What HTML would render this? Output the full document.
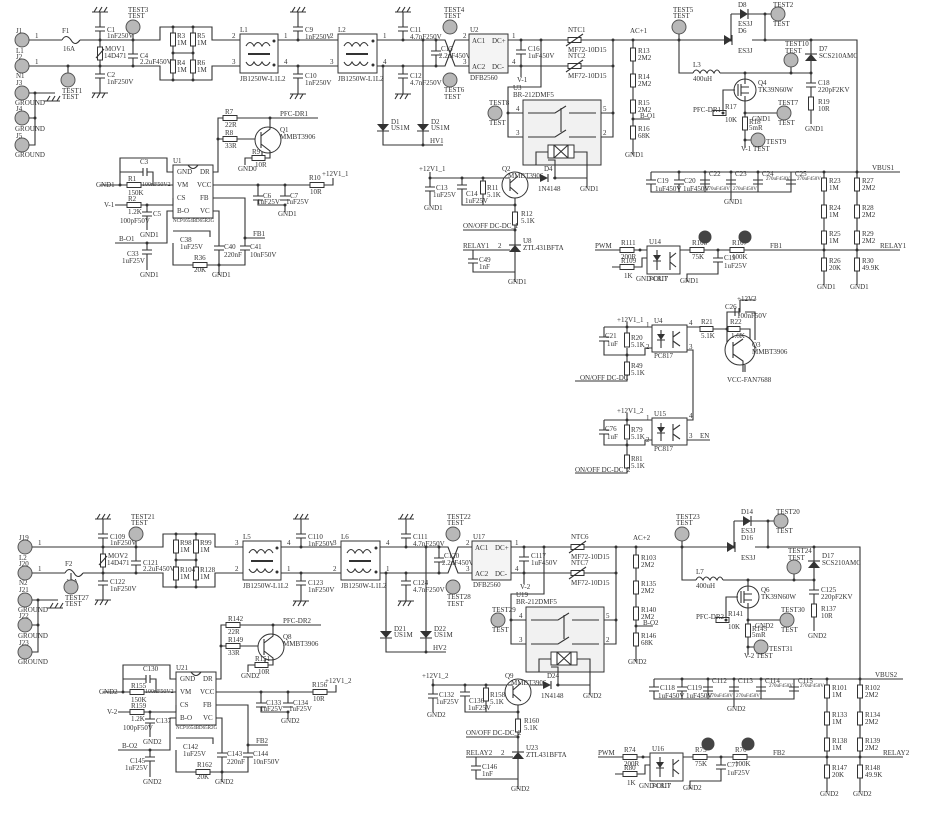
<!DOCTYPE html>
<html><head><meta charset="utf-8"><style>
html,body{margin:0;padding:0;background:#fff}
svg{display:block}
.w{stroke:#333;stroke-width:1.1;fill:none}
.b{fill:#fff;stroke:#333;stroke-width:1}
.tp{fill:#b8b8b8;stroke:#555;stroke-width:1}
.d{fill:#333}
text{fill:#333;font-family:"Liberation Serif",serif;font-size:7px}
</style></head><body>
<svg width="944" height="826" viewBox="0 0 944 826" xmlns="http://www.w3.org/2000/svg">
<g>
<circle class="tp" cx="22" cy="40" r="7"/><circle class="tp" cx="22" cy="66" r="7"/><circle class="tp" cx="22" cy="93" r="7"/><circle class="tp" cx="22" cy="118" r="7"/><circle class="tp" cx="22" cy="145" r="7"/>
<text x="16" y="33">J1</text><text x="16" y="53">L1</text><text x="16" y="59">J2</text><text x="16" y="78">N1</text><text x="16" y="85">J3</text><text x="15" y="105">GROUND</text><text x="16" y="111">J4</text><text x="15" y="131">GROUND</text><text x="16" y="138">J5</text><text x="15" y="157">GROUND</text>
<text x="35" y="38">1</text><text x="35" y="64">1</text>
<path class="w" d="M29 40H62M80 40H160V27H212V40H240M62 40q4-7 9 0q4 7 9 0M29 66H160V80H212V66H240M29 93H55M35 93V145H29M29 118H35"/>
<path class="w" d="M44 101h16M47 101l3-5M52 101l3-5M57 101l3-5"/>
<circle class="d" cx="35" cy="93" r="1.5"/><circle class="d" cx="35" cy="118" r="1.5"/>
<text x="62" y="33">F1</text><text x="63" y="51">16A</text>
<path class="w" d="M100 12V27M95 27h10M95 31h10M100 31V47M100 60V74M95 74h10M95 78h10M100 78V93M92 12h16M94 12l3-5M99 12l3-5M104 12l3-5M92 93h16M92 98l3-5M97 98l3-5M102 98l3-5"/>
<rect class="b" x="97.5" y="47" width="5" height="13"/><path class="w" d="M96 58l8-9"/>
<circle class="d" cx="100" cy="40" r="1.5"/><circle class="d" cx="100" cy="66" r="1.5"/>
<text x="107" y="32">C1</text><text x="107" y="38">1nF250V</text><text x="105" y="51">MOV1</text><text x="104" y="58">14D471</text><text x="107" y="77">C2</text><text x="107" y="84">1nF250V</text>
<path class="w" d="M133 34V54M128 54h10M128 58h10M133 58V66M68 66V73"/>
<circle class="d" cx="133" cy="40" r="1.5"/><circle class="d" cx="133" cy="66" r="1.5"/><circle class="d" cx="68" cy="66" r="1.5"/>
<circle class="tp" cx="133" cy="27" r="7"/><circle class="tp" cx="68" cy="80" r="7"/>
<text x="128" y="12">TEST3</text><text x="128" y="18">TEST</text><text x="62" y="93">TEST1</text><text x="62" y="99">TEST</text>
<text x="140" y="58">C4</text><text x="140" y="64">2.2uF450V</text>
<path class="w" d="M173 27V80M193 27V80M173 53H193"/>
<rect class="b" x="170.5" y="33" width="5" height="13"/><rect class="b" x="190.5" y="33" width="5" height="13"/><rect class="b" x="170.5" y="60" width="5" height="13"/><rect class="b" x="190.5" y="60" width="5" height="13"/>
<circle class="d" cx="173" cy="27" r="1.5"/><circle class="d" cx="193" cy="27" r="1.5"/><circle class="d" cx="173" cy="53" r="1.5"/><circle class="d" cx="193" cy="53" r="1.5"/><circle class="d" cx="173" cy="80" r="1.5"/><circle class="d" cx="193" cy="80" r="1.5"/>
<text x="177" y="38">R3</text><text x="177" y="45">1M</text><text x="197" y="38">R5</text><text x="197" y="45">1M</text><text x="177" y="65">R4</text><text x="177" y="72">1M</text><text x="197" y="65">R6</text><text x="197" y="72">1M</text>
<rect class="b" x="240" y="34" width="38" height="39"/>
<path class="w" d="M246 46q4-7 8 0q4-7 8 0q4-7 8 0M246 62q4 7 8 0q4 7 8 0q4 7 8 0"/><path d="M248 54H270" stroke="#333" stroke-width="2"/>
<circle class="d" cx="274" cy="41" r="1.5"/><circle class="d" cx="274" cy="65" r="1.5"/>
<text x="240" y="32">L1</text><text x="240" y="81">JB1250W-L1L2</text><text x="232" y="38">2</text><text x="232" y="64">3</text><text x="284" y="38">1</text><text x="284" y="64">4</text>
<path class="w" d="M278 40H338M278 66H338M298 12V27M293 27h10M293 31h10M298 31V40M298 66V74M293 74h10M293 78h10M298 78V94M290 12h16M292 12l3-5M297 12l3-5M302 12l3-5M290 94h16M290 99l3-5M295 99l3-5M300 99l3-5"/>
<circle class="d" cx="298" cy="40" r="1.5"/><circle class="d" cx="298" cy="66" r="1.5"/>
<text x="305" y="32">C9</text><text x="305" y="39">1nF250V</text><text x="330" y="38">2</text><text x="305" y="78">C10</text><text x="305" y="85">1nF250V</text><text x="330" y="64">3</text>
<rect class="b" x="338" y="34" width="39" height="39"/>
<path class="w" d="M344 46q4-7 8 0q4-7 8 0q4-7 8 0M344 62q4 7 8 0q4 7 8 0q4 7 8 0"/><path d="M346 54H368" stroke="#333" stroke-width="2"/>
<circle class="d" cx="373" cy="41" r="1.5"/><circle class="d" cx="373" cy="65" r="1.5"/>
<text x="338" y="32">L2</text><text x="338" y="81">JB1250W-L1L2</text><text x="383" y="38">1</text><text x="383" y="64">4</text>
<path class="w" d="M377 40H445L455 66H470M377 66H445L455 40H470M403 12V27M398 27h10M398 31h10M403 31V40M403 66V74M398 74h10M398 78h10M403 78V94M395 12h16M397 12l3-5M402 12l3-5M407 12l3-5M395 94h16M395 99l3-5M400 99l3-5M405 99l3-5"/>
<path class="w" d="M436 40V51M431 51h10M431 55h10M436 55V66M423 40V145M383 66V145H443"/>
<path class="d" d="M377 124h12l-6 7z M417 124h12l-6 7z"/><path class="w" d="M377 131h12M417 131h12"/>
<circle class="d" cx="403" cy="40" r="1.5"/><circle class="d" cx="403" cy="66" r="1.5"/><circle class="d" cx="423" cy="40" r="1.5"/><circle class="d" cx="383" cy="66" r="1.5"/><circle class="d" cx="436" cy="40" r="1.5"/><circle class="d" cx="436" cy="66" r="1.5"/><circle class="d" cx="423" cy="145" r="1.5"/>
<text x="410" y="32">C11</text><text x="410" y="39">4.7nF250V</text><text x="410" y="78">C12</text><text x="410" y="85">4.7nF250V</text><text x="441" y="51">C15</text><text x="439" y="58">2.2uF450V</text>
<text x="391" y="124">D1</text><text x="391" y="130">US1M</text><text x="431" y="124">D2</text><text x="431" y="130">US1M</text><text x="430" y="143">HV1</text>
<circle class="tp" cx="450" cy="27" r="7"/><circle class="tp" cx="450" cy="80" r="7"/>
<text x="444" y="12">TEST4</text><text x="444" y="18">TEST</text><text x="444" y="92">TEST6</text><text x="444" y="99">TEST</text>
<rect class="b" x="469" y="34" width="39" height="39" style="fill:#f4f4f4"/>
<text x="472" y="43">AC1</text><text x="492" y="43">DC+</text><text x="472" y="69">AC2</text><text x="492" y="69">DC-</text><text x="470" y="32">U2</text><text x="470" y="80">DFB2560</text><text x="463" y="38">2</text><text x="463" y="64">3</text><text x="512" y="38">1</text><text x="512" y="64">4</text>
<path class="w" d="M508 40H731M752 40H857V250M508 66H613M521 40V50M516 50h10M516 54h10M521 54V77M541 40V87H508V137H523M508 113H523M613 40V137H600M600 113H613"/>
<circle class="d" cx="521" cy="40" r="1.5"/><circle class="d" cx="521" cy="66" r="1.5"/><circle class="d" cx="541" cy="40" r="1.5"/><circle class="d" cx="613" cy="40" r="1.5"/><circle class="d" cx="613" cy="66" r="1.5"/><circle class="d" cx="508" cy="113" r="1.5"/><circle class="d" cx="613" cy="113" r="1.5"/>
<text x="528" y="51">C16</text><text x="528" y="58">1uF450V</text><text x="517" y="82">V-1</text>
<rect class="b" x="568" y="37.5" width="13" height="5"/><path class="w" d="M566 46l17-12"/><rect class="b" x="568" y="63.5" width="13" height="5"/><path class="w" d="M566 72l17-12"/>
<text x="568" y="32">NTC1</text><text x="568" y="52">MF72-10D15</text><text x="568" y="58">NTC2</text><text x="568" y="78">MF72-10D15</text>
<circle class="tp" cx="495" cy="113" r="7"/><text x="489" y="105">TEST8</text><text x="489" y="125">TEST</text>
<text x="513" y="90">U3</text><text x="513" y="97">BR-212DMF5</text>
<rect x="523" y="100" width="78" height="65" fill="#f1f1f1" stroke="#333"/>
<path class="w" d="M528 113H555L566 106M569 113H596M528 137H555L566 130M569 137H596M561 108V132M548 152H536V165M574 152H587V165"/>
<rect class="b" x="548" y="145" width="26" height="13"/><path class="w" d="M554 145v13M568 145v13M554 145l14 13M568 145l-14 13"/>
<text x="516" y="111">4</text><text x="516" y="135">3</text><text x="603" y="111">5</text><text x="603" y="135">2</text>
<path class="w" d="M633 40V155M633 119H650"/>
<rect class="b" x="630.5" y="48" width="5" height="13"/><rect class="b" x="630.5" y="74" width="5" height="13"/><rect class="b" x="630.5" y="100" width="5" height="13"/><rect class="b" x="630.5" y="126" width="5" height="13"/>
<circle class="d" cx="633" cy="40" r="1.5"/><circle class="d" cx="633" cy="119" r="1.5"/>
<text x="630" y="33">AC+1</text><text x="638" y="53">R13</text><text x="638" y="60">2M2</text><text x="638" y="79">R14</text><text x="638" y="86">2M2</text><text x="638" y="105">R15</text><text x="638" y="112">2M2</text><text x="640" y="118">B-O1</text><text x="638" y="131">R16</text><text x="638" y="138">68K</text><text x="625" y="157">GND1</text>
<circle class="tp" cx="679" cy="27" r="7"/><text x="673" y="12">TEST5</text><text x="673" y="18">TEST</text>
<path class="w" d="M679 34V73H693M720 73H811M693 73q3-6 7 0q3-6 7 0q3-6 7 0q3-6 6 0M731 14V40M731 14H741M748 14H765V40M765 14H771"/>
<path class="d" d="M740 9v10l8-5z M724 35v10l8-5z"/><path class="w" d="M748 9v10M732 35v10M731 40H724"/>
<circle class="d" cx="679" cy="40" r="1.5"/><circle class="d" cx="731" cy="40" r="1.5"/><circle class="d" cx="765" cy="40" r="1.5"/><circle class="d" cx="765" cy="14" r="1.5"/>
<text x="738" y="7">D8</text><text x="738" y="26">ES3J</text><text x="738" y="33">D6</text><text x="738" y="53">ES3J</text>
<circle class="tp" cx="778" cy="14" r="7"/><text x="773" y="7">TEST2</text><text x="773" y="26">TEST</text>
<text x="693" y="67">L3</text><text x="693" y="81">400uH</text>
<path class="w" d="M811 40V73V83M806 83h10M806 87h10M811 87V97M811 110V124M791 67V73"/>
<path class="d" d="M805 61h12l-6-7z"/><path class="w" d="M805 54h12"/>
<rect class="b" x="808.5" y="97" width="5" height="13"/>
<circle class="d" cx="811" cy="40" r="1.5"/><circle class="d" cx="811" cy="73" r="1.5"/><circle class="d" cx="791" cy="73" r="1.5"/><circle class="d" cx="745" cy="73" r="1.5"/>
<circle class="tp" cx="791" cy="60" r="7"/><text x="785" y="46">TEST10</text><text x="785" y="53">TEST</text>
<text x="819" y="51">D7</text><text x="819" y="58">SCS210AMC</text><text x="818" y="85">C18</text><text x="818" y="92">220pF2KV</text><text x="818" y="104">R19</text><text x="818" y="111">10R</text><text x="805" y="131">GND1</text>
<circle class="b" cx="745" cy="90" r="11"/><path class="w" d="M745 73V84M745 96V148M738 84v12M741 84v12M741 87h8M741 93h8M735 90H723V113M745 113H777M745 140H751"/>
<rect class="b" x="713" y="110.5" width="13" height="5"/><rect class="b" x="742.5" y="117" width="5" height="13"/>
<circle class="d" cx="723" cy="113" r="1.5"/><circle class="d" cx="745" cy="113" r="1.5"/><circle class="d" cx="745" cy="140" r="1.5"/>
<text x="758" y="85">Q4</text><text x="758" y="92">TK39N60W</text><text x="693" y="112">PFC-DR1</text><text x="725" y="109">R17</text><text x="725" y="122">10K</text><text x="749" y="124">R18</text><text x="749" y="130">5mR</text><text x="752" y="121">GND1</text><text x="741" y="151">V-1</text>
<circle class="tp" cx="784" cy="113" r="7"/><text x="778" y="105">TEST7</text><text x="778" y="125">TEST</text>
<circle class="tp" cx="758" cy="140" r="7"/><text x="766" y="144">TEST9</text><text x="753" y="151">TEST</text>
<path class="w" d="M651 172H900M651 172V180M646 180h10M646 184h10M651 184V192H791V172M679 172V180M674 180h10M674 184h10M679 184V192M705 172V192M700 180h10M700 184h10M731 172V200M726 180h10M726 184h10M758 172V192M753 180h10M753 184h10M786 180h10M786 184h10"/>
<circle class="d" cx="679" cy="172" r="1.5"/><circle class="d" cx="705" cy="172" r="1.5"/><circle class="d" cx="731" cy="172" r="1.5"/><circle class="d" cx="758" cy="172" r="1.5"/><circle class="d" cx="824" cy="172" r="1.5"/><circle class="d" cx="857" cy="172" r="1.5"/>
<text x="657" y="183">C19</text><text x="655" y="191">1uF450V</text><text x="684" y="183">C20</text><text x="683" y="191">1uF450V</text><text x="709" y="176">C22</text><text x="735" y="176">C23</text><text x="762" y="176">C24</text><text x="795" y="176">C25</text><text x="706" y="190" style="font-size:5px">270uF450V</text><text x="733" y="190" style="font-size:5px">270uF450V</text><text x="766" y="180" style="font-size:5px">270uF450V</text><text x="797" y="180" style="font-size:5px">270uF450V</text><text x="724" y="204">GND1</text>
<text x="872" y="170">VBUS1</text>
<path class="w" d="M824 172V285M857 172V285"/>
<rect class="b" x="821.5" y="178" width="5" height="13"/><rect class="b" x="821.5" y="205" width="5" height="13"/><rect class="b" x="821.5" y="231" width="5" height="13"/><rect class="b" x="821.5" y="258" width="5" height="13"/>
<rect class="b" x="854.5" y="178" width="5" height="13"/><rect class="b" x="854.5" y="205" width="5" height="13"/><rect class="b" x="854.5" y="231" width="5" height="13"/><rect class="b" x="854.5" y="258" width="5" height="13"/>
<text x="829" y="183">R23</text><text x="829" y="190">1M</text><text x="829" y="210">R24</text><text x="829" y="217">1M</text><text x="829" y="236">R25</text><text x="829" y="243">1M</text><text x="829" y="263">R26</text><text x="829" y="270">20K</text><text x="817" y="289">GND1</text>
<text x="862" y="183">R27</text><text x="862" y="190">2M2</text><text x="862" y="210">R28</text><text x="862" y="217">2M2</text><text x="862" y="236">R29</text><text x="862" y="243">2M2</text><text x="862" y="263">R30</text><text x="862" y="270">49.9K</text><text x="850" y="289">GND1</text>
<path class="w" d="M680 250H857M857 250H900M595 250H620M634 250H647M687 250H690M704 250H730M744 250H760M718 250V258M713 258h10M713 262h10M718 262V274H687V282M612 267H620M634 267H642V258H647"/>
<circle class="d" cx="824" cy="250" r="1.5"/><circle class="d" cx="857" cy="250" r="1.5"/><circle class="d" cx="718" cy="250" r="1.5"/><circle class="d" cx="640" cy="250" r="1.5"/>
<text x="770" y="248">FB1</text><text x="880" y="248">RELAY1</text><text x="595" y="248">PWM</text>
<rect class="b" x="620" y="247.5" width="14" height="5"/><rect class="b" x="620" y="264.5" width="14" height="5"/><rect class="b" x="690" y="247.5" width="14" height="5"/><rect class="b" x="730" y="247.5" width="14" height="5"/>
<rect class="b" x="647" y="246" width="33" height="28"/><path class="d" d="M653 255h8l-4 6z"/><path class="w" d="M653 261h8M657 250v20M670 252v18M670 258l6-5M670 262l6 5"/>
<text x="621" y="245">R111</text><text x="621" y="259">200R</text><text x="621" y="263">R109</text><text x="624" y="278">1K</text><text x="649" y="244">U14</text><text x="649" y="281">PC817</text><text x="636" y="281">GND-OUT</text><text x="692" y="245">R108</text><text x="692" y="259">75K</text><text x="732" y="245">R107</text><text x="732" y="259">100K</text><text x="724" y="260">C19</text><text x="724" y="268">1uF25V</text><text x="680" y="283">GND1</text>
<circle cx="705" cy="237" r="6.5" fill="#444"/><circle cx="745" cy="237" r="6.5" fill="#444"/>
<text x="419" y="171">+12V1_1</text>
<path class="w" d="M430 172V178H505M430 178V187M425 187h10M425 191h10M430 191V205M462 178V185M457 185h10M457 189h10M462 189V205H515M483 178V181M483 194V205M527 178H540M553 178H587V188M555 178V160H548M587 165V178M515 198V212M515 225V282M463 230H515M463 250H510M473 250V259M468 259h10M468 263h10M473 263V272H515"/>
<rect class="b" x="480.5" y="181" width="5" height="13"/><rect class="b" x="512.5" y="212" width="5" height="13"/>
<circle class="b" cx="515" cy="185" r="13"/><path class="w" d="M505 178L510 178M510 179v12M510 183l8-7M510 187l8 7"/>
<path class="d" d="M540 174v8l8-4z"/><path class="w" d="M548 174v8"/>
<path class="d" d="M509 252h12l-6-7z"/><path class="w" d="M509 245h12"/>
<circle class="d" cx="430" cy="178" r="1.5"/><circle class="d" cx="462" cy="178" r="1.5"/><circle class="d" cx="483" cy="178" r="1.5"/><circle class="d" cx="555" cy="178" r="1.5"/><circle class="d" cx="515" cy="205" r="1.5"/><circle class="d" cx="515" cy="230" r="1.5"/><circle class="d" cx="515" cy="250" r="1.5"/>
<text x="436" y="190">C13</text><text x="433" y="197">1uF25V</text><text x="466" y="196">C14</text><text x="465" y="203">1uF25V</text><text x="487" y="190">R11</text><text x="487" y="197">5.1K</text><text x="502" y="171">Q2</text><text x="508" y="178">MMBT3906</text><text x="544" y="171">D4</text><text x="538" y="191">1N4148</text><text x="580" y="191">GND1</text><text x="424" y="210">GND1</text>
<text x="521" y="216">R12</text><text x="521" y="223">5.1K</text><text x="463" y="228">ON/OFF DC-DC_1</text><text x="463" y="248">RELAY1</text><text x="498" y="248">2</text><text x="523" y="243">U8</text><text x="523" y="250">ZTL431BFTA</text><text x="479" y="262">C49</text><text x="479" y="269">1nF</text><text x="508" y="284">GND1</text>
<path class="w" d="M213 172H218V118H223M237 118H318M218 139H223M237 139H256M262 150V158H265M252 158H245V165"/>
<rect class="b" x="223" y="115.5" width="14" height="5"/><rect class="b" x="223" y="136.5" width="14" height="5"/><rect class="b" x="252" y="155.5" width="13" height="5"/>
<circle class="b" cx="268" cy="140" r="13"/><path class="w" d="M261 132v16M261 136l9-7V118M261 144l9 7V158H265"/>
<circle class="d" cx="218" cy="139" r="1.5"/><circle class="d" cx="270" cy="118" r="1.5"/>
<text x="225" y="114">R7</text><text x="225" y="127">22R</text><text x="225" y="135">R8</text><text x="225" y="148">33R</text><text x="252" y="154">R9</text><text x="255" y="167">10R</text><text x="238" y="171">GND0</text><text x="280" y="116">PFC-DR1</text><text x="280" y="132">Q1</text><text x="280" y="139">MMBT3906</text>
<rect class="b" x="173" y="165" width="40" height="53"/><path class="w" d="M188 165q5 7 10 0"/>
<text x="177" y="174">GND</text><text x="200" y="174">DR</text><text x="177" y="187">VM</text><text x="197" y="187">VCC</text><text x="177" y="200">CS</text><text x="200" y="200">FB</text><text x="177" y="213">B-O</text><text x="200" y="213">VC</text><text x="173" y="163">U1</text><text x="173" y="222" style="font-size:5px">NCP1654BD65R2G</text>
<path class="w" d="M173 172H167V158H120V185M120 172H143M143 168v8M147 168v8M147 172H153V185M100 185H127M141 185H173M115 205H127M141 205H173V198M147 205V212M142 212h10M142 216h10M147 216V230M173 211H167V243H115M147 243V250M142 250h10M142 254h10M147 254V270M213 185H310M324 185H333V178M258 185V196M253 196h10M253 200h10M258 200V205H285V212M285 185V196M280 196h10M280 200h10M213 198H245V246M213 211H219V246M214 246h10M214 250h10M219 250V275M240 246h10M240 250h10M245 250V265H173V243M245 238H265M173 231H210V237"/>
<rect class="b" x="127" y="182.5" width="14" height="5"/><rect class="b" x="127" y="202.5" width="14" height="5"/><rect class="b" x="310" y="182.5" width="14" height="5"/><rect class="b" x="193" y="262.5" width="14" height="5"/>
<circle class="d" cx="120" cy="185" r="1.5"/><circle class="d" cx="147" cy="205" r="1.5"/><circle class="d" cx="147" cy="243" r="1.5"/><circle class="d" cx="258" cy="185" r="1.5"/><circle class="d" cx="285" cy="185" r="1.5"/><circle class="d" cx="245" cy="238" r="1.5"/><circle class="d" cx="219" cy="265" r="1.5"/><circle class="d" cx="285" cy="205" r="1.5"/>
<text x="140" y="164">C3</text><text x="142" y="186" style="font-size:6px">100nF50V2</text><text x="128" y="181">R1</text><text x="128" y="195">150K</text><text x="96" y="187">GND1</text><text x="128" y="201">R2</text><text x="128" y="214">1.2K</text><text x="104" y="207">V-1</text><text x="153" y="216">C5</text><text x="120" y="223">100pF50V</text><text x="140" y="237">GND1</text><text x="119" y="241">B-O1</text><text x="127" y="256">C33</text><text x="122" y="263">1uF25V</text><text x="140" y="277">GND1</text>
<text x="309" y="180">R10</text><text x="310" y="194">10R</text><text x="322" y="176">+12V1_1</text><text x="263" y="198">C6</text><text x="257" y="204">1uF25V</text><text x="290" y="198">C7</text><text x="286" y="204">1uF25V</text><text x="278" y="216">GND1</text>
<text x="180" y="242">C38</text><text x="180" y="249">1uF25V</text><text x="224" y="249">C40</text><text x="224" y="257">220nF</text><text x="250" y="249">C41</text><text x="250" y="257">10nF50V</text><text x="253" y="236">FB1</text><text x="194" y="260">R36</text><text x="194" y="272">20K</text><text x="212" y="277">GND1</text>
</g>

<g transform="translate(3,507)">
<circle class="tp" cx="22" cy="40" r="7"/><circle class="tp" cx="22" cy="66" r="7"/><circle class="tp" cx="22" cy="93" r="7"/><circle class="tp" cx="22" cy="118" r="7"/><circle class="tp" cx="22" cy="145" r="7"/>
<text x="16" y="33">J19</text><text x="16" y="53">L2</text><text x="16" y="59">J20</text><text x="16" y="78">N2</text><text x="16" y="85">J21</text><text x="15" y="105">GROUND</text><text x="16" y="111">J22</text><text x="15" y="131">GROUND</text><text x="16" y="138">J23</text><text x="15" y="157">GROUND</text>
<text x="35" y="38">1</text><text x="35" y="64">1</text>
<path class="w" d="M29 40H160V27H212V40H240M29 66H62M80 66H160V80H212V66H240M62 66q4-7 9 0q4 7 9 0M29 93H55M35 93V145H29M29 118H35"/>
<path class="w" d="M44 101h16M47 101l3-5M52 101l3-5M57 101l3-5"/>
<circle class="d" cx="35" cy="93" r="1.5"/><circle class="d" cx="35" cy="118" r="1.5"/>
<text x="62" y="59">F2</text><text x="63" y="77">16A</text>
<path class="w" d="M100 12V27M95 27h10M95 31h10M100 31V47M100 60V74M95 74h10M95 78h10M100 78V93M92 12h16M94 12l3-5M99 12l3-5M104 12l3-5M92 93h16M92 98l3-5M97 98l3-5M102 98l3-5"/>
<rect class="b" x="97.5" y="47" width="5" height="13"/><path class="w" d="M96 58l8-9"/>
<circle class="d" cx="100" cy="40" r="1.5"/><circle class="d" cx="100" cy="66" r="1.5"/>
<text x="107" y="32">C109</text><text x="107" y="38">1nF250V</text><text x="105" y="51">MOV2</text><text x="104" y="58">14D471</text><text x="107" y="77">C122</text><text x="107" y="84">1nF250V</text>
<path class="w" d="M133 34V54M128 54h10M128 58h10M133 58V66M68 66V73"/>
<circle class="d" cx="133" cy="40" r="1.5"/><circle class="d" cx="133" cy="66" r="1.5"/>
<circle class="tp" cx="133" cy="27" r="7"/><circle class="tp" cx="68" cy="80" r="7"/>
<text x="128" y="12">TEST21</text><text x="128" y="18">TEST</text><text x="62" y="93">TEST27</text><text x="62" y="99">TEST</text>
<text x="140" y="58">C121</text><text x="140" y="64">2.2uF450V</text>
<path class="w" d="M173 27V80M193 27V80M173 53H193"/>
<rect class="b" x="170.5" y="33" width="5" height="13"/><rect class="b" x="190.5" y="33" width="5" height="13"/><rect class="b" x="170.5" y="60" width="5" height="13"/><rect class="b" x="190.5" y="60" width="5" height="13"/>
<circle class="d" cx="173" cy="27" r="1.5"/><circle class="d" cx="193" cy="27" r="1.5"/><circle class="d" cx="173" cy="53" r="1.5"/><circle class="d" cx="193" cy="53" r="1.5"/><circle class="d" cx="173" cy="80" r="1.5"/><circle class="d" cx="193" cy="80" r="1.5"/>
<text x="177" y="38">R98</text><text x="177" y="45">1M</text><text x="197" y="38">R99</text><text x="197" y="45">1M</text><text x="177" y="65">R104</text><text x="177" y="72">1M</text><text x="197" y="65">R128</text><text x="197" y="72">1M</text>
<rect class="b" x="240" y="34" width="38" height="39"/>
<path class="w" d="M246 46q4-7 8 0q4-7 8 0q4-7 8 0M246 62q4 7 8 0q4 7 8 0q4 7 8 0"/><path d="M248 54H270" stroke="#333" stroke-width="2"/>
<circle class="d" cx="274" cy="41" r="1.5"/><circle class="d" cx="274" cy="65" r="1.5"/>
<text x="240" y="32">L5</text><text x="240" y="81">JB1250W-L1L2</text><text x="232" y="38">3</text><text x="232" y="64">2</text><text x="284" y="38">4</text><text x="284" y="64">1</text>
<path class="w" d="M278 40H338M278 66H338M298 12V27M293 27h10M293 31h10M298 31V40M298 66V74M293 74h10M293 78h10M298 78V94M290 12h16M292 12l3-5M297 12l3-5M302 12l3-5M290 94h16M290 99l3-5M295 99l3-5M300 99l3-5"/>
<circle class="d" cx="298" cy="40" r="1.5"/><circle class="d" cx="298" cy="66" r="1.5"/>
<text x="305" y="32">C110</text><text x="305" y="39">1nF250V</text><text x="330" y="38">3</text><text x="305" y="78">C123</text><text x="305" y="85">1nF250V</text><text x="330" y="64">2</text>
<rect class="b" x="338" y="34" width="39" height="39"/>
<path class="w" d="M344 46q4-7 8 0q4-7 8 0q4-7 8 0M344 62q4 7 8 0q4 7 8 0q4 7 8 0"/><path d="M346 54H368" stroke="#333" stroke-width="2"/>
<circle class="d" cx="373" cy="41" r="1.5"/><circle class="d" cx="373" cy="65" r="1.5"/>
<text x="338" y="32">L6</text><text x="338" y="81">JB1250W-L1L2</text><text x="383" y="38">4</text><text x="383" y="64">1</text>
<path class="w" d="M377 40H445L455 66H470M377 66H445L455 40H470M403 12V27M398 27h10M398 31h10M403 31V40M403 66V74M398 74h10M398 78h10M403 78V94M395 12h16M397 12l3-5M402 12l3-5M407 12l3-5M395 94h16M395 99l3-5M400 99l3-5M405 99l3-5"/>
<path class="w" d="M436 40V51M431 51h10M431 55h10M436 55V66M423 40V145M383 66V145H443"/>
<path class="d" d="M377 124h12l-6 7z M417 124h12l-6 7z"/><path class="w" d="M377 131h12M417 131h12"/>
<circle class="d" cx="403" cy="40" r="1.5"/><circle class="d" cx="403" cy="66" r="1.5"/><circle class="d" cx="423" cy="40" r="1.5"/><circle class="d" cx="383" cy="66" r="1.5"/><circle class="d" cx="436" cy="40" r="1.5"/><circle class="d" cx="436" cy="66" r="1.5"/><circle class="d" cx="423" cy="145" r="1.5"/>
<text x="410" y="32">C111</text><text x="410" y="39">4.7nF250V</text><text x="410" y="78">C124</text><text x="410" y="85">4.7nF250V</text><text x="441" y="51">C120</text><text x="439" y="58">2.2uF450V</text>
<text x="391" y="124">D21</text><text x="391" y="130">US1M</text><text x="431" y="124">D22</text><text x="431" y="130">US1M</text><text x="430" y="143">HV2</text>
<circle class="tp" cx="450" cy="27" r="7"/><circle class="tp" cx="450" cy="80" r="7"/>
<text x="444" y="12">TEST22</text><text x="444" y="18">TEST</text><text x="444" y="92">TEST28</text><text x="444" y="99">TEST</text>
<rect class="b" x="469" y="34" width="39" height="39" style="fill:#f4f4f4"/>
<text x="472" y="43">AC1</text><text x="492" y="43">DC+</text><text x="472" y="69">AC2</text><text x="492" y="69">DC-</text><text x="470" y="32">U17</text><text x="470" y="80">DFB2560</text><text x="463" y="38">2</text><text x="463" y="64">3</text><text x="512" y="38">1</text><text x="512" y="64">4</text>
<path class="w" d="M508 40H731M752 40H857V250M508 66H613M521 40V50M516 50h10M516 54h10M521 54V77M541 40V87H508V137H523M508 113H523M613 40V137H600M600 113H613"/>
<circle class="d" cx="521" cy="40" r="1.5"/><circle class="d" cx="521" cy="66" r="1.5"/><circle class="d" cx="541" cy="40" r="1.5"/><circle class="d" cx="613" cy="40" r="1.5"/><circle class="d" cx="613" cy="66" r="1.5"/><circle class="d" cx="508" cy="113" r="1.5"/><circle class="d" cx="613" cy="113" r="1.5"/>
<text x="528" y="51">C117</text><text x="528" y="58">1uF450V</text><text x="517" y="82">V-2</text>
<rect class="b" x="568" y="37.5" width="13" height="5"/><path class="w" d="M566 46l17-12"/><rect class="b" x="568" y="63.5" width="13" height="5"/><path class="w" d="M566 72l17-12"/>
<text x="568" y="32">NTC6</text><text x="568" y="52">MF72-10D15</text><text x="568" y="58">NTC7</text><text x="568" y="78">MF72-10D15</text>
<circle class="tp" cx="495" cy="113" r="7"/><text x="489" y="105">TEST29</text><text x="489" y="125">TEST</text>
<text x="513" y="90">U19</text><text x="513" y="97">BR-212DMF5</text>
<rect x="523" y="100" width="78" height="65" fill="#f1f1f1" stroke="#333"/>
<path class="w" d="M528 113H555L566 106M569 113H596M528 137H555L566 130M569 137H596M561 108V132M548 152H536V165M574 152H587V165"/>
<rect class="b" x="548" y="145" width="26" height="13"/><path class="w" d="M554 145v13M568 145v13M554 145l14 13M568 145l-14 13"/>
<text x="516" y="111">4</text><text x="516" y="135">3</text><text x="603" y="111">5</text><text x="603" y="135">2</text>
<path class="w" d="M633 40V155M633 119H650"/>
<rect class="b" x="630.5" y="48" width="5" height="13"/><rect class="b" x="630.5" y="74" width="5" height="13"/><rect class="b" x="630.5" y="100" width="5" height="13"/><rect class="b" x="630.5" y="126" width="5" height="13"/>
<circle class="d" cx="633" cy="40" r="1.5"/><circle class="d" cx="633" cy="119" r="1.5"/>
<text x="630" y="33">AC+2</text><text x="638" y="53">R103</text><text x="638" y="60">2M2</text><text x="638" y="79">R135</text><text x="638" y="86">2M2</text><text x="638" y="105">R140</text><text x="638" y="112">2M2</text><text x="640" y="118">B-O2</text><text x="638" y="131">R146</text><text x="638" y="138">68K</text><text x="625" y="157">GND2</text>
<circle class="tp" cx="679" cy="27" r="7"/><text x="673" y="12">TEST23</text><text x="673" y="18">TEST</text>
<path class="w" d="M679 34V73H693M720 73H811M693 73q3-6 7 0q3-6 7 0q3-6 7 0q3-6 6 0M731 14V40M731 14H741M748 14H765V40M765 14H771"/>
<path class="d" d="M740 9v10l8-5z M724 35v10l8-5z"/><path class="w" d="M748 9v10M732 35v10M731 40H724"/>
<circle class="d" cx="679" cy="40" r="1.5"/><circle class="d" cx="731" cy="40" r="1.5"/><circle class="d" cx="765" cy="40" r="1.5"/><circle class="d" cx="765" cy="14" r="1.5"/>
<text x="738" y="7">D14</text><text x="738" y="26">ES3J</text><text x="738" y="33">D16</text><text x="738" y="53">ES3J</text>
<circle class="tp" cx="778" cy="14" r="7"/><text x="773" y="7">TEST20</text><text x="773" y="26">TEST</text>
<text x="693" y="67">L7</text><text x="693" y="81">400uH</text>
<path class="w" d="M811 40V73V83M806 83h10M806 87h10M811 87V97M811 110V124M791 67V73"/>
<path class="d" d="M805 61h12l-6-7z"/><path class="w" d="M805 54h12"/>
<rect class="b" x="808.5" y="97" width="5" height="13"/>
<circle class="d" cx="811" cy="40" r="1.5"/><circle class="d" cx="811" cy="73" r="1.5"/><circle class="d" cx="791" cy="73" r="1.5"/><circle class="d" cx="745" cy="73" r="1.5"/>
<circle class="tp" cx="791" cy="60" r="7"/><text x="785" y="46">TEST24</text><text x="785" y="53">TEST</text>
<text x="819" y="51">D17</text><text x="819" y="58">SCS210AMC</text><text x="818" y="85">C125</text><text x="818" y="92">220pF2KV</text><text x="818" y="104">R137</text><text x="818" y="111">10R</text><text x="805" y="131">GND2</text>
<circle class="b" cx="745" cy="90" r="11"/><path class="w" d="M745 73V84M745 96V148M738 84v12M741 84v12M741 87h8M741 93h8M735 90H723V113M745 113H777M745 140H751"/>
<rect class="b" x="713" y="110.5" width="13" height="5"/><rect class="b" x="742.5" y="117" width="5" height="13"/>
<circle class="d" cx="723" cy="113" r="1.5"/><circle class="d" cx="745" cy="113" r="1.5"/><circle class="d" cx="745" cy="140" r="1.5"/>
<text x="758" y="85">Q6</text><text x="758" y="92">TK39N60W</text><text x="693" y="112">PFC-DR2</text><text x="725" y="109">R141</text><text x="725" y="122">10K</text><text x="749" y="124">R145</text><text x="749" y="130">5mR</text><text x="752" y="121">GND2</text><text x="741" y="151">V-2</text>
<circle class="tp" cx="784" cy="113" r="7"/><text x="778" y="105">TEST30</text><text x="778" y="125">TEST</text>
<circle class="tp" cx="758" cy="140" r="7"/><text x="766" y="144">TEST31</text><text x="753" y="151">TEST</text>
<path class="w" d="M651 172H900M651 172V180M646 180h10M646 184h10M651 184V192H791V172M679 172V180M674 180h10M674 184h10M679 184V192M705 172V192M700 180h10M700 184h10M731 172V200M726 180h10M726 184h10M758 172V192M753 180h10M753 184h10M786 180h10M786 184h10"/>
<circle class="d" cx="679" cy="172" r="1.5"/><circle class="d" cx="705" cy="172" r="1.5"/><circle class="d" cx="731" cy="172" r="1.5"/><circle class="d" cx="758" cy="172" r="1.5"/><circle class="d" cx="824" cy="172" r="1.5"/><circle class="d" cx="857" cy="172" r="1.5"/>
<text x="657" y="183">C118</text><text x="655" y="191">1uF450V</text><text x="684" y="183">C119</text><text x="683" y="191">1uF450V</text><text x="709" y="176">C112</text><text x="735" y="176">C113</text><text x="762" y="176">C114</text><text x="795" y="176">C115</text><text x="706" y="190" style="font-size:5px">270uF450V</text><text x="733" y="190" style="font-size:5px">270uF450V</text><text x="766" y="180" style="font-size:5px">270uF450V</text><text x="797" y="180" style="font-size:5px">270uF450V</text><text x="724" y="204">GND2</text>
<text x="872" y="170">VBUS2</text>
<path class="w" d="M824 172V285M857 172V285"/>
<rect class="b" x="821.5" y="178" width="5" height="13"/><rect class="b" x="821.5" y="205" width="5" height="13"/><rect class="b" x="821.5" y="231" width="5" height="13"/><rect class="b" x="821.5" y="258" width="5" height="13"/>
<rect class="b" x="854.5" y="178" width="5" height="13"/><rect class="b" x="854.5" y="205" width="5" height="13"/><rect class="b" x="854.5" y="231" width="5" height="13"/><rect class="b" x="854.5" y="258" width="5" height="13"/>
<text x="829" y="183">R101</text><text x="829" y="190">1M</text><text x="829" y="210">R133</text><text x="829" y="217">1M</text><text x="829" y="236">R138</text><text x="829" y="243">1M</text><text x="829" y="263">R147</text><text x="829" y="270">20K</text><text x="817" y="289">GND2</text>
<text x="862" y="183">R102</text><text x="862" y="190">2M2</text><text x="862" y="210">R134</text><text x="862" y="217">2M2</text><text x="862" y="236">R139</text><text x="862" y="243">2M2</text><text x="862" y="263">R148</text><text x="862" y="270">49.9K</text><text x="850" y="289">GND2</text>
<path class="w" d="M680 250H857M857 250H900M595 250H620M634 250H647M687 250H690M704 250H730M744 250H760M718 250V258M713 258h10M713 262h10M718 262V274H687V282M612 267H620M634 267H642V258H647"/>
<circle class="d" cx="824" cy="250" r="1.5"/><circle class="d" cx="857" cy="250" r="1.5"/><circle class="d" cx="718" cy="250" r="1.5"/><circle class="d" cx="640" cy="250" r="1.5"/>
<text x="770" y="248">FB2</text><text x="880" y="248">RELAY2</text><text x="595" y="248">PWM</text>
<rect class="b" x="620" y="247.5" width="14" height="5"/><rect class="b" x="620" y="264.5" width="14" height="5"/><rect class="b" x="690" y="247.5" width="14" height="5"/><rect class="b" x="730" y="247.5" width="14" height="5"/>
<rect class="b" x="647" y="246" width="33" height="28"/><path class="d" d="M653 255h8l-4 6z"/><path class="w" d="M653 261h8M657 250v20M670 252v18M670 258l6-5M670 262l6 5"/>
<text x="621" y="245">R74</text><text x="621" y="259">200R</text><text x="621" y="263">R80</text><text x="624" y="278">1K</text><text x="649" y="244">U16</text><text x="649" y="281">PC817</text><text x="636" y="281">GND-OUT</text><text x="692" y="245">R75</text><text x="692" y="259">75K</text><text x="732" y="245">R70</text><text x="732" y="259">100K</text><text x="724" y="260">C77</text><text x="724" y="268">1uF25V</text><text x="680" y="283">GND2</text>
<circle cx="705" cy="237" r="6.5" fill="#444"/><circle cx="745" cy="237" r="6.5" fill="#444"/>
<text x="419" y="171">+12V1_2</text>
<path class="w" d="M430 172V178H505M430 178V187M425 187h10M425 191h10M430 191V205M462 178V185M457 185h10M457 189h10M462 189V205H515M483 178V181M483 194V205M527 178H540M553 178H587V188M555 178V160H548M587 165V178M515 198V212M515 225V282M463 230H515M463 250H510M473 250V259M468 259h10M468 263h10M473 263V272H515"/>
<rect class="b" x="480.5" y="181" width="5" height="13"/><rect class="b" x="512.5" y="212" width="5" height="13"/>
<circle class="b" cx="515" cy="185" r="13"/><path class="w" d="M505 178L510 178M510 179v12M510 183l8-7M510 187l8 7"/>
<path class="d" d="M540 174v8l8-4z"/><path class="w" d="M548 174v8"/>
<path class="d" d="M509 252h12l-6-7z"/><path class="w" d="M509 245h12"/>
<circle class="d" cx="430" cy="178" r="1.5"/><circle class="d" cx="462" cy="178" r="1.5"/><circle class="d" cx="483" cy="178" r="1.5"/><circle class="d" cx="555" cy="178" r="1.5"/><circle class="d" cx="515" cy="205" r="1.5"/><circle class="d" cx="515" cy="230" r="1.5"/><circle class="d" cx="515" cy="250" r="1.5"/>
<text x="436" y="190">C132</text><text x="433" y="197">1uF25V</text><text x="466" y="196">C136</text><text x="465" y="203">1uF25V</text><text x="487" y="190">R158</text><text x="487" y="197">5.1K</text><text x="502" y="171">Q9</text><text x="508" y="178">MMBT3906</text><text x="544" y="171">D24</text><text x="538" y="191">1N4148</text><text x="580" y="191">GND2</text><text x="424" y="210">GND2</text>
<text x="521" y="216">R160</text><text x="521" y="223">5.1K</text><text x="463" y="228">ON/OFF DC-DC_2</text><text x="463" y="248">RELAY2</text><text x="498" y="248">2</text><text x="523" y="243">U23</text><text x="523" y="250">ZTL431BFTA</text><text x="479" y="262">C146</text><text x="479" y="269">1nF</text><text x="508" y="284">GND2</text>
<path class="w" d="M213 172H218V118H223M237 118H318M218 139H223M237 139H256M262 150V158H265M252 158H245V165"/>
<rect class="b" x="223" y="115.5" width="14" height="5"/><rect class="b" x="223" y="136.5" width="14" height="5"/><rect class="b" x="252" y="155.5" width="13" height="5"/>
<circle class="b" cx="268" cy="140" r="13"/><path class="w" d="M261 132v16M261 136l9-7V118M261 144l9 7V158H265"/>
<circle class="d" cx="218" cy="139" r="1.5"/><circle class="d" cx="270" cy="118" r="1.5"/>
<text x="225" y="114">R142</text><text x="225" y="127">22R</text><text x="225" y="135">R149</text><text x="225" y="148">33R</text><text x="252" y="154">R151</text><text x="255" y="167">10R</text><text x="238" y="171">GND2</text><text x="280" y="116">PFC-DR2</text><text x="280" y="132">Q8</text><text x="280" y="139">MMBT3906</text>
<rect class="b" x="173" y="165" width="40" height="53"/><path class="w" d="M188 165q5 7 10 0"/>
<text x="177" y="174">GND</text><text x="200" y="174">DR</text><text x="177" y="187">VM</text><text x="197" y="187">VCC</text><text x="177" y="200">CS</text><text x="200" y="200">FB</text><text x="177" y="213">B-O</text><text x="200" y="213">VC</text><text x="173" y="163">U21</text><text x="173" y="222" style="font-size:5px">NCP1654BD65R2G</text>
<path class="w" d="M173 172H167V158H120V185M120 172H143M143 168v8M147 168v8M147 172H153V185M100 185H127M141 185H173M115 205H127M141 205H173V198M147 205V212M142 212h10M142 216h10M147 216V230M173 211H167V243H115M147 243V250M142 250h10M142 254h10M147 254V270M213 185H310M324 185H333V178M258 185V196M253 196h10M253 200h10M258 200V205H285V212M285 185V196M280 196h10M280 200h10M213 198H245V246M213 211H219V246M214 246h10M214 250h10M219 250V275M240 246h10M240 250h10M245 250V265H173V243M245 238H265M173 231H210V237"/>
<rect class="b" x="127" y="182.5" width="14" height="5"/><rect class="b" x="127" y="202.5" width="14" height="5"/><rect class="b" x="310" y="182.5" width="14" height="5"/><rect class="b" x="193" y="262.5" width="14" height="5"/>
<circle class="d" cx="120" cy="185" r="1.5"/><circle class="d" cx="147" cy="205" r="1.5"/><circle class="d" cx="147" cy="243" r="1.5"/><circle class="d" cx="258" cy="185" r="1.5"/><circle class="d" cx="285" cy="185" r="1.5"/><circle class="d" cx="245" cy="238" r="1.5"/><circle class="d" cx="219" cy="265" r="1.5"/><circle class="d" cx="285" cy="205" r="1.5"/>
<text x="140" y="164">C130</text><text x="142" y="186" style="font-size:6px">100nF50V2</text><text x="128" y="181">R155</text><text x="128" y="195">150K</text><text x="96" y="187">GND2</text><text x="128" y="201">R159</text><text x="128" y="214">1.2K</text><text x="104" y="207">V-2</text><text x="153" y="216">C137</text><text x="120" y="223">100pF50V</text><text x="140" y="237">GND2</text><text x="119" y="241">B-O2</text><text x="127" y="256">C145</text><text x="122" y="263">1uF25V</text><text x="140" y="277">GND2</text>
<text x="309" y="180">R156</text><text x="310" y="194">10R</text><text x="322" y="176">+12V1_2</text><text x="263" y="198">C133</text><text x="257" y="204">1uF25V</text><text x="290" y="198">C134</text><text x="286" y="204">1uF25V</text><text x="278" y="216">GND2</text>
<text x="180" y="242">C142</text><text x="180" y="249">1uF25V</text><text x="224" y="249">C143</text><text x="224" y="257">220nF</text><text x="250" y="249">C144</text><text x="250" y="257">10nF50V</text><text x="253" y="236">FB2</text><text x="194" y="260">R162</text><text x="194" y="272">20K</text><text x="212" y="277">GND2</text>
</g>

<g>
<text x="617" y="322">+12V1_1</text>
<path class="w" d="M627 322V327H653M604 327V337M599 337h10M599 341h10M604 327H627V333M604 341V355H627V362M627 348V355M627 375V381H575M653 348H645V355H627M687 327H700M713 329H728M740 329H750V340M687 350H693V420H687M727 350V312H740V300M745 312H755V340M740 300H755M745 365V372"/>
<rect class="b" x="624.5" y="333" width="5" height="14"/><rect class="b" x="624.5" y="362" width="5" height="13"/><rect class="b" x="700" y="326.5" width="13" height="5"/><rect class="b" x="728" y="326.5" width="12" height="5"/>
<rect class="b" x="652" y="325" width="35" height="27"/><path class="d" d="M657 334h8l-4 6z"/><path class="w" d="M657 340h8M661 330v18M673 331v17M673 337l7-5M673 341l7 5"/>
<circle class="b" cx="740" cy="350" r="15"/><path class="w" d="M733 342v16M733 346l10-7M733 354l10 7V372"/>
<circle class="d" cx="627" cy="327" r="1.5"/><circle class="d" cx="627" cy="355" r="1.5"/><circle class="d" cx="727" cy="329" r="1.5"/>
<text x="605" y="338">C21</text><text x="607" y="346">1uF</text><text x="631" y="340">R20</text><text x="631" y="347">5.1K</text><text x="631" y="368">R49</text><text x="631" y="375">5.1K</text><text x="580" y="380">ON/OFF DC-DC</text><text x="654" y="323">U4</text><text x="654" y="358">PC817</text><text x="646" y="327">1</text><text x="646" y="349">2</text><text x="689" y="325">4</text><text x="689" y="349">3</text>
<text x="701" y="324">R21</text><text x="701" y="338">5.1K</text><text x="730" y="324">R22</text><text x="731" y="338">1.6K</text><text x="725" y="309">C26</text><text x="737" y="318">100nF50V</text><text x="737" y="301">+12V3</text><text x="752" y="347">Q3</text><text x="752" y="354">MMBT3906</text><text x="727" y="382">VCC-FAN7688</text>
<path class="w" d="M735 308v8M739 308v8"/>
<text x="617" y="413">+12V1_2</text>
<path class="w" d="M627 413V420H653M604 420V430M599 430h10M599 434h10M604 420H627V425M604 434V445H627V455M627 440V445M627 468V473H575M653 440H645V445H627M687 440H710"/>
<rect class="b" x="624.5" y="425" width="5" height="14"/><rect class="b" x="624.5" y="455" width="5" height="13"/>
<rect class="b" x="652" y="418" width="35" height="27"/><path class="d" d="M657 427h8l-4 6z"/><path class="w" d="M657 433h8M661 423v18M673 424v17M673 430l7-5M673 434l7 5"/>
<circle class="d" cx="627" cy="420" r="1.5"/><circle class="d" cx="627" cy="445" r="1.5"/>
<text x="605" y="431">C76</text><text x="607" y="439">1uF</text><text x="631" y="432">R79</text><text x="631" y="439">5.1K</text><text x="631" y="461">R81</text><text x="631" y="468">5.1K</text><text x="575" y="472">ON/OFF DC-DC_2</text><text x="654" y="416">U15</text><text x="654" y="451">PC817</text><text x="646" y="420">1</text><text x="646" y="442">2</text><text x="689" y="438">3</text><text x="689" y="418">4</text><text x="700" y="438">EN</text>
</g>
</svg>
</body></html>
